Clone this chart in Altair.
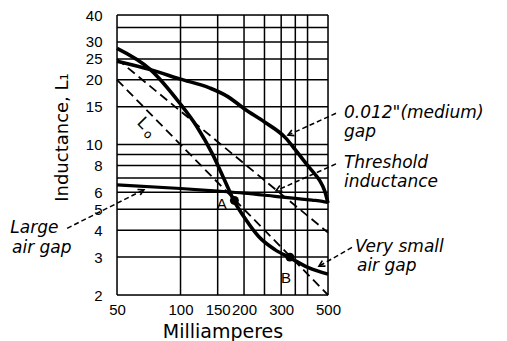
import altair as alt
import pandas as pd

# ---- axis / grid values ----
x_grid = [50, 100, 150, 200, 250, 300, 350, 400, 500]
y_grid = [2, 3, 4, 5, 6, 7, 8, 9, 10, 15, 20, 25, 30, 35, 40]
x_ticks = [50, 100, 150, 200, 300, 500]
y_ticks = [2, 3, 4, 5, 6, 8, 10, 15, 20, 25, 30, 40]

# ---- curves (milliamperes, inductance) ----
very_small_x = [50, 72, 99, 119, 142, 160, 180, 205, 234, 280, 330, 404, 500]
very_small_y = [28, 22.3, 15.6, 12.2, 9.0, 7.0, 5.45, 4.45, 3.75, 3.25, 2.98, 2.68, 2.5]
medium_x = [50, 72, 99, 138, 166, 202, 251, 313, 349, 400, 433, 457, 482, 500]
medium_y = [24.4, 22.3, 20.2, 18.3, 16.8, 14.6, 12.7, 10.8, 9.5, 8.0, 7.3, 6.8, 6.1, 5.35]
large_x = [50, 100, 150, 200, 280, 350, 420, 470, 500]
large_y = [6.5, 6.25, 6.08, 5.95, 5.75, 5.62, 5.52, 5.45, 5.38]
threshold_x = [50, 500]
threshold_y = [25, 3.9]
l0_x = [50, 500]
l0_y = [20, 2]

# ---- marked points ----
point_x = [180, 330]
point_y = [5.5, 3.0]
point_names = ["A", "B"]
point_label_x = [156.7, 316]
point_label_y = [5.3, 2.39]

# ---- annotations ----
note_text = ['0.012"(medium)', "gap", "Threshold", "inductance",
             "Very small", "air gap", "Large", "air gap"]
note_x = [595, 595, 595, 595, 671, 686, 15.6, 15.9]
note_y = [13.98, 11.42, 8.22, 6.71, 3.33, 2.72, 4.08, 3.29]

lead_x = [545.6, 545.6, 649.6, 29.0]
lead_y = [13.98, 8.13, 3.33, 4.08]
tip_x = [323, 283.5, 453, 67.1]
tip_y = [11.06, 6.10, 2.72, 6.17]
tip_angle = [155.4, 155.8, 150.1, 333.4]

lo_text = ["L", "o"]
lo_x = [66.4, 70.2]
lo_y = [12.57, 11.18]
lo_size = [16, 12]

xs = alt.Scale(type="log", domain=[50, 500], nice=False)
ys = alt.Scale(type="log", domain=[2, 40], nice=False)

xaxis = alt.Axis(values=x_ticks, title="Milliamperes", grid=False, ticks=False, tickSize=0,
                 domain=False, labelFont="Liberation Sans", labelFontSize=15, labelPadding=7,
                 labelColor="black", labelFlush=False, labelOverlap=False, format="d",
                 titleFont="DejaVu Sans", titleFontSize=19, titleFontWeight="normal",
                 titleColor="black", titleX=105.5, titleY=36, titleAlign="center",
                 titleBaseline="middle")
yaxis = alt.Axis(values=y_ticks, title="Inductance, L\u2081", grid=False, ticks=False, tickSize=0,
                 domain=False, labelFont="Liberation Sans", labelFontSize=15, labelPadding=15,
                 labelColor="black", labelFlush=False, labelOverlap=False, format="d",
                 titleFont="DejaVu Sans", titleFontSize=18, titleFontWeight="normal",
                 titleColor="black", titleX=-55, titleY=122, titleAngle=270,
                 titleAlign="center", titleBaseline="middle")


def X(f):
    return alt.X(f, type="quantitative", scale=xs, axis=xaxis)


def Y(f):
    return alt.Y(f, type="quantitative", scale=ys, axis=yaxis)


xg = alt.Chart(pd.DataFrame({"x": x_grid})).mark_rule(color="black", strokeWidth=1.5).encode(x=X("x"))
yg = alt.Chart(pd.DataFrame({"y": y_grid})).mark_rule(color="black", strokeWidth=1.5).encode(y=Y("y"))


def curve(xv, yv, width, dash=None):
    kw = dict(color="black", strokeWidth=width, interpolate="monotone", clip=False)
    if dash:
        kw["strokeDash"] = dash
    return alt.Chart(pd.DataFrame({"x": xv, "y": yv})).mark_line(**kw).encode(x=X("x"), y=Y("y"))


c_vs = curve(very_small_x, very_small_y, 3.6)
c_med = curve(medium_x, medium_y, 3.6)
c_large = curve(large_x, large_y, 3.2)
c_thr = curve(threshold_x, threshold_y, 1.8, [9, 5])
c_l0 = curve(l0_x, l0_y, 1.8, [9, 5])

pts = alt.Chart(pd.DataFrame({"x": point_x, "y": point_y})).mark_point(
    filled=True, color="black", size=80, opacity=1).encode(x=X("x"), y=Y("y"))
pt_lab = alt.Chart(pd.DataFrame({"x": point_label_x, "y": point_label_y, "t": point_names})).mark_text(
    font="Liberation Sans", fontSize=15, color="black").encode(x=X("x"), y=Y("y"), text="t:N")

notes = alt.Chart(pd.DataFrame({"x": note_x, "y": note_y, "t": note_text})).mark_text(
    align="left", baseline="middle", font="DejaVu Sans", fontStyle="italic", fontSize=17,
    color="black").encode(x=X("x"), y=Y("y"), text="t:N")

leads = alt.Chart(pd.DataFrame({"x": lead_x, "y": lead_y, "x2": tip_x, "y2": tip_y})).mark_rule(
    color="black", strokeWidth=1.5, strokeDash=[5, 3]).encode(
    x=X("x"), y=Y("y"), x2="x2:Q", y2="y2:Q")

heads = alt.Chart(pd.DataFrame({"x": tip_x, "y": tip_y, "a": tip_angle})).mark_point(
    shape="M-1,-0.55L0,0L-1,0.55", filled=False, color="black", strokeWidth=1.6, size=130,
    opacity=1).encode(x=X("x"), y=Y("y"), angle=alt.Angle("a:Q", scale=None))

lo = alt.Chart(pd.DataFrame({"x": lo_x, "y": lo_y, "t": lo_text, "s": lo_size})).mark_text(
    font="DejaVu Sans", angle=45, color="black", baseline="middle").encode(
    x=X("x"), y=Y("y"), text="t:N", size=alt.Size("s:Q", scale=None, legend=None))

chart = alt.layer(xg, yg, c_l0, c_thr, c_large, c_med, c_vs, pts, pt_lab, leads, heads, notes, lo).properties(
    width=211, height=280,
    padding={"left": 109, "top": 7, "right": 171, "bottom": 46},
    autosize=alt.AutoSizeParams(type="none"),
).configure_view(stroke="black", strokeWidth=2.6).configure(background="white")

chart.save("out.html", embed_options={"renderer": "svg", "actions": False})
